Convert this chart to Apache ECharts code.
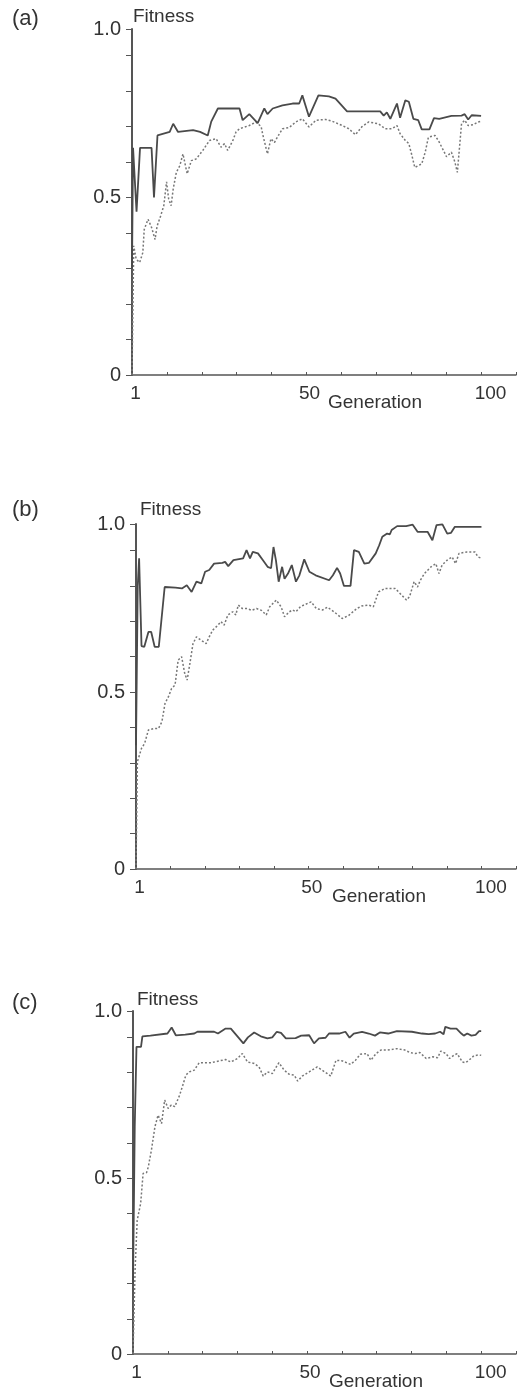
<!DOCTYPE html>
<html>
<head>
<meta charset="utf-8">
<script src="https://cdn.jsdelivr.net/npm/echarts@6/dist/echarts.min.js"></script>
<style>
  html, body { margin: 0; padding: 0; background: #fff; }
  #chart { width: 519px; height: 1388px; }
</style>
</head>
<body>
<div id="chart"></div>
<script>
// generation / fitness readings, [gen, fitness]
const aBest = [[0,0.30],[0.3,0.64],[1.3,0.46],[2.3,0.64],[5.6,0.64],[6.3,0.50],[7.3,0.675],[10.8,0.685],[11.8,0.708],[13.2,0.685],[17.5,0.69],[19.5,0.685],[21.7,0.675],[22.7,0.714],[24.6,0.751],[30.8,0.751],[31.7,0.718],[33.6,0.735],[36,0.71],[37.9,0.751],[38.8,0.735],[40.3,0.751],[43.1,0.76],[46,0.765],[47.9,0.765],[48.8,0.788],[50.7,0.728],[53.4,0.788],[56.4,0.785],[58.3,0.779],[61.6,0.743],[71.1,0.743],[72.1,0.731],[73,0.74],[74,0.722],[75.9,0.765],[76.8,0.725],[78.3,0.774],[79.3,0.77],[80.6,0.722],[82,0.718],[83,0.692],[85.2,0.692],[86.5,0.724],[88,0.722],[91.5,0.73],[94.4,0.731],[95.3,0.735],[96.3,0.72],[97.3,0.732],[100,0.73]];
const aMean = [[0,0.0],[0.5,0.364],[1.2,0.326],[2.2,0.317],[3.1,0.345],[3.5,0.41],[4.6,0.439],[5.6,0.416],[6.6,0.382],[7.2,0.42],[8.2,0.448],[9.1,0.477],[9.9,0.544],[10.5,0.496],[11.2,0.477],[11.8,0.524],[12.7,0.571],[13.7,0.59],[14.6,0.623],[15.8,0.567],[17,0.604],[18.4,0.609],[20.3,0.633],[22.2,0.661],[24.1,0.666],[25.5,0.642],[26.5,0.652],[27.4,0.633],[28.9,0.661],[29.8,0.685],[30.8,0.694],[33.6,0.703],[35.5,0.713],[37,0.70],[37.4,0.68],[38.8,0.623],[39.8,0.666],[40.8,0.655],[41.7,0.671],[43.1,0.694],[45,0.697],[46.9,0.713],[48.8,0.722],[50.7,0.699],[52.7,0.718],[55.5,0.72],[57.4,0.715],[60.2,0.703],[62.1,0.694],[64,0.677],[65.9,0.70],[67.8,0.713],[70.6,0.708],[72.5,0.694],[74.5,0.694],[75.9,0.703],[76.8,0.68],[78.3,0.661],[79.3,0.652],[80.2,0.618],[81,0.585],[83,0.595],[84,0.628],[84.9,0.67],[86.8,0.675],[87.8,0.66],[89.2,0.633],[90.1,0.615],[91.5,0.628],[92.5,0.60],[93.2,0.571],[94.4,0.708],[95.3,0.718],[96.3,0.703],[97.7,0.705],[99.1,0.713],[100,0.715]];

const bBest = [[0,0.35],[0.5,0.80],[0.9,0.878],[1.6,0.63],[2.4,0.628],[3.6,0.67],[4.4,0.67],[5.4,0.628],[6.6,0.628],[8.3,0.797],[11.4,0.795],[13.3,0.793],[14.7,0.802],[16.1,0.783],[17.5,0.812],[18.9,0.807],[20,0.84],[21.2,0.845],[22.6,0.863],[25,0.865],[25.8,0.868],[26.7,0.856],[28.2,0.873],[31,0.878],[32,0.901],[33,0.878],[33.8,0.896],[35.3,0.892],[36.7,0.873],[38.1,0.854],[39.1,0.85],[39.8,0.91],[40.5,0.873],[41.3,0.812],[42.3,0.854],[43,0.82],[44,0.835],[45.1,0.859],[46.3,0.812],[47.3,0.83],[48.7,0.875],[50.2,0.84],[52,0.83],[55.9,0.816],[57,0.83],[58.2,0.851],[59.1,0.835],[60.2,0.80],[62.1,0.80],[63.1,0.901],[64.5,0.896],[66.1,0.863],[67.4,0.865],[69.4,0.892],[70.4,0.915],[71.3,0.939],[72.7,0.948],[73.5,0.946],[74,0.958],[75.6,0.969],[78.2,0.969],[80.1,0.973],[81.5,0.953],[84.4,0.953],[85.8,0.929],[87,0.972],[88.7,0.974],[90.1,0.948],[91.2,0.95],[92.3,0.967],[100,0.967]];
const bMean = [[0,0.0],[0.4,0.303],[1.6,0.341],[2.5,0.355],[3.6,0.393],[5.2,0.397],[6.5,0.397],[7.5,0.416],[8.4,0.468],[9.4,0.487],[10.3,0.51],[11.3,0.52],[12.2,0.59],[13.2,0.6],[14.1,0.553],[14.8,0.534],[15.6,0.581],[16.5,0.637],[17.5,0.656],[18.9,0.646],[20.3,0.637],[21.2,0.656],[22.2,0.675],[23.7,0.689],[24.6,0.699],[25.5,0.689],[26.6,0.718],[28,0.727],[28.9,0.718],[29.6,0.746],[30.8,0.736],[32.2,0.736],[33.5,0.731],[34.9,0.736],[36.3,0.731],[37.7,0.718],[38.7,0.741],[40.6,0.76],[42,0.741],[43,0.713],[44.4,0.727],[45.3,0.732],[46.3,0.727],[47.6,0.741],[48.6,0.746],[50.7,0.755],[52.2,0.736],[54,0.732],[55.4,0.74],[57.3,0.727],[59.7,0.708],[61.5,0.716],[63.9,0.736],[65.3,0.743],[67.3,0.746],[68.7,0.741],[70.2,0.783],[72.1,0.793],[75,0.793],[76.9,0.774],[78.3,0.76],[79.2,0.77],[80.5,0.812],[81.5,0.797],[82.3,0.816],[83.5,0.835],[85.4,0.854],[86.8,0.863],[87.7,0.835],[88.6,0.859],[90.1,0.873],[91.5,0.882],[92.5,0.863],[93.5,0.892],[95.8,0.896],[98.1,0.896],[99,0.882],[100,0.878]];

const cBest = [[0,0.2],[0.5,0.646],[1.0,0.873],[2.3,0.873],[2.7,0.903],[5,0.905],[9.9,0.911],[11.1,0.928],[12.3,0.906],[15,0.908],[17.6,0.911],[18.5,0.916],[23.3,0.916],[24.4,0.911],[26.6,0.925],[28.1,0.925],[30,0.903],[31.7,0.883],[33,0.90],[34.8,0.914],[36.7,0.903],[38.6,0.897],[40,0.90],[41.3,0.916],[42.5,0.913],[43.9,0.897],[46.7,0.898],[48.3,0.905],[50.6,0.906],[52,0.883],[53.4,0.897],[55.3,0.899],[56.3,0.911],[59.2,0.911],[61,0.916],[62.2,0.899],[63.4,0.911],[65.8,0.916],[67.7,0.911],[69.5,0.905],[70.9,0.914],[73.3,0.911],[75.8,0.918],[80.1,0.916],[83,0.911],[84.9,0.909],[86.8,0.911],[88.2,0.916],[89.2,0.909],[89.7,0.93],[91.2,0.925],[92.9,0.925],[94.3,0.911],[95,0.905],[96,0.911],[97.2,0.905],[98.4,0.907],[99.4,0.918],[100,0.918]];
const cMean = [[0,0.0],[0.6,0.239],[1.2,0.38],[2.2,0.428],[2.9,0.513],[3.9,0.516],[4.4,0.532],[5.3,0.58],[6.3,0.646],[7.2,0.679],[8.2,0.655],[9.1,0.722],[10.1,0.698],[11,0.708],[12,0.703],[13.4,0.736],[14.3,0.764],[15.2,0.793],[16.2,0.802],[17.6,0.807],[19,0.828],[22.4,0.828],[24.7,0.833],[26.6,0.837],[28.1,0.83],[30,0.84],[31.4,0.854],[32.9,0.83],[34.8,0.826],[36.2,0.816],[37.4,0.79],[38.6,0.802],[40,0.797],[41.9,0.828],[43.4,0.807],[44.9,0.795],[46.3,0.793],[47.3,0.776],[48.6,0.79],[50.6,0.802],[52.9,0.816],[54.3,0.807],[55.8,0.797],[56.8,0.79],[58.3,0.835],[60.2,0.833],[62.5,0.823],[63.9,0.835],[65.3,0.852],[67.2,0.854],[68.3,0.835],[69.8,0.854],[71.2,0.864],[73.1,0.864],[75.8,0.868],[78.1,0.864],[79.5,0.857],[81,0.854],[82.4,0.857],[84.2,0.84],[86.1,0.845],[87.5,0.842],[88.4,0.861],[89.9,0.854],[90.9,0.84],[92.3,0.85],[93.1,0.854],[94.6,0.83],[95.5,0.828],[96.5,0.835],[97.9,0.848],[99.3,0.85],[100,0.849]];

// tick labels
const xTickLabels = { 0: '1', 50: '50', 100: '100' };
const yTickLabels = ['0', '0.5', '1.0'];
const panelNames = ['(a)', '(b)', '(c)'];

// layout of the three panels (pixels)
const panels = [
  { left: 132, top: 29, width: 386, height: 346, best: aBest, mean: aMean },
  { left: 136, top: 524, width: 388, height: 345, best: bBest, mean: bMean },
  { left: 133, top: 1011, width: 385, height: 343, best: cBest, mean: cMean }
];

const font = '"Liberation Sans", Arial, sans-serif';
const ink = '#333';
const axisInk = '#555';

const chart = echarts.init(document.getElementById('chart'), null, { renderer: 'canvas' });

const grid = [], xAxis = [], yAxis = [], series = [], graphic = [];
panels.forEach(function (p, i) {
  grid.push({ left: p.left, top: p.top, width: p.width, height: p.height });
  xAxis.push({
    type: 'value', gridIndex: i, min: 0, max: 110, interval: 10,
    axisLine: { lineStyle: { color: axisInk, width: 1.5 } },
    axisTick: { inside: true, length: 3, lineStyle: { color: axisInk } },
    splitLine: { show: false },
    axisLabel: {
      margin: 9, color: ink, fontSize: 19, fontFamily: font,
      formatter: function (v) {
        if (v === 0) return '{a|' + xTickLabels[0] + '}';
        if (v === 50) return '{b|' + xTickLabels[50] + '}';
        if (v === 100) return '{c|' + xTickLabels[100] + '}';
        return '';
      },
      rich: {
        a: { padding: [0, 0, 0, 7], fontSize: 19, fontFamily: font, color: ink },
        b: { padding: [0, 0, 0, 6], fontSize: 19, fontFamily: font, color: ink },
        c: { padding: [0, 0, 0, 19], fontSize: 19, fontFamily: font, color: ink }
      }
    }
  });
  yAxis.push({
    type: 'value', gridIndex: i, min: 0, max: 0.975, interval: 0.1,
    axisLine: { show: true, lineStyle: { color: axisInk, width: 2 } },
    axisTick: { show: true, length: 6, lineStyle: { color: axisInk } },
    splitLine: { show: false },
    axisLabel: {
      margin: 11, color: ink, fontSize: 20, fontFamily: font, showMaxLabel: true,
      formatter: function (v) {
        if (v === 0) return yTickLabels[0];
        if (Math.abs(v - 0.5) < 1e-6) return yTickLabels[1];
        if (v > 0.97) return yTickLabels[2];
        return '';
      }
    }
  });
  series.push({
    type: 'line', xAxisIndex: i, yAxisIndex: i, data: p.best,
    showSymbol: false, lineStyle: { color: '#4a4a4a', width: 1.8 }, z: 3
  });
  series.push({
    type: 'line', xAxisIndex: i, yAxisIndex: i, data: p.mean,
    showSymbol: false, lineStyle: { color: '#777', width: 1.5, type: [2, 2] }, z: 2
  });

  graphic.push({
    type: 'text', style: { text: panelNames[i], x: 12, y: p.top - [10, 14, 8][i],
      font: '22px ' + font, fill: ink, align: 'left', verticalAlign: 'middle' }
  });
  graphic.push({
    type: 'text', style: { text: 'Fitness', x: p.left + [1, 4, 4][i], y: p.top - [12, 14, 11][i],
      font: '19px ' + font, fill: ink, align: 'left', verticalAlign: 'middle' }
  });
  graphic.push({
    type: 'text', style: { text: 'Generation', x: p.left + 243, y: p.top + p.height + 28,
      font: '19px ' + font, fill: ink, align: 'center', verticalAlign: 'middle' }
  });
});

chart.setOption({
  backgroundColor: '#fff',
  animation: false,
  grid: grid,
  xAxis: xAxis,
  yAxis: yAxis,
  series: series,
  graphic: graphic
});
</script>
</body>
</html>
